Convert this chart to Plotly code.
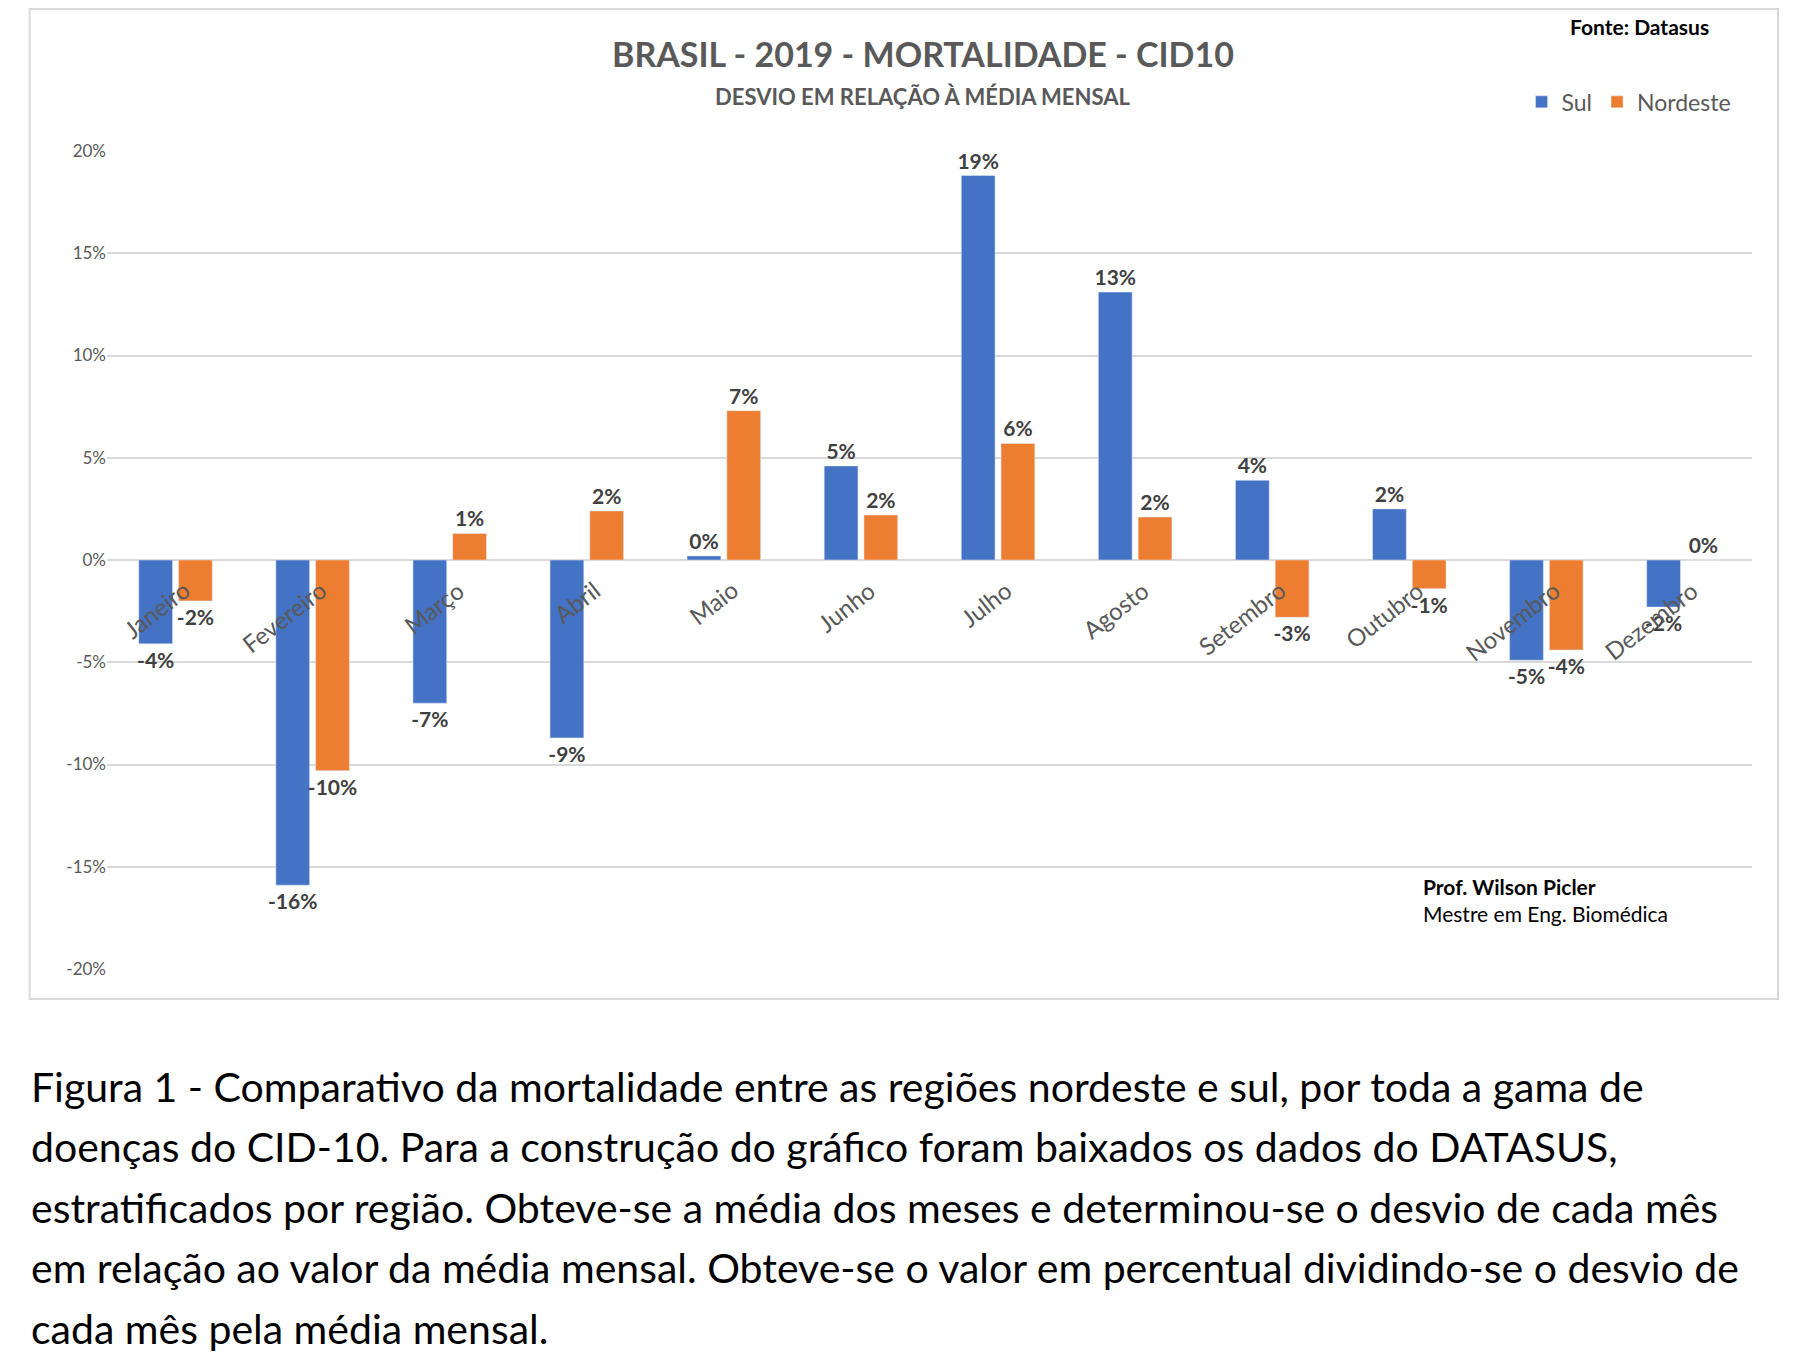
import plotly.graph_objects as go

meses = ["Janeiro","Fevereiro","Março","Abril","Maio","Junho","Julho","Agosto","Setembro","Outubro","Novembro","Dezembro"]
sul = [-4.1,-15.9,-7.0,-8.7,0.2,4.6,18.8,13.1,3.9,2.5,-4.9,-2.3]
nordeste = [-2.0,-10.3,1.3,2.4,7.3,2.2,5.7,2.1,-2.8,-1.4,-4.4,0.0]
sul_lbl = ["-4%","-16%","-7%","-9%","0%","5%","19%","13%","4%","2%","-5%","-2%"]
nor_lbl = ["-2%","-10%","1%","2%","7%","2%","6%","2%","-3%","-1%","-4%","0%"]
yticks = [-20,-15,-10,-5,0,5,10,15,20]

lab = dict(family="Lato", size=21, color="#404040")
fig = go.Figure()
fig.add_bar(x=meses, y=sul, name="Sul", marker_color="#4472C4",
            text=[f"<b>{t}</b>" for t in sul_lbl], textposition="outside",
            textfont=lab, cliponaxis=False, constraintext="none")
fig.add_bar(x=meses, y=nordeste, name="Nordeste", marker_color="#ED7D31",
            text=[f"<b>{t}</b>" for t in nor_lbl], textposition="outside",
            textfont=lab, cliponaxis=False, constraintext="none")

for m in meses:
    fig.add_annotation(x=m, y=-0.6, text=m, showarrow=False, textangle=-38,
                       xanchor="right", yanchor="top", xshift=22,
                       font=dict(family="Lato", size=24, color="#595959"))

fig.update_layout(
    width=1814, height=1362, paper_bgcolor="white", plot_bgcolor="white",
    margin=dict(l=99, r=70, t=143, b=401),
    barmode="group", bargap=0.42, bargroupgap=0.15,
    font=dict(family="Lato"),
    showlegend=True,
    legend=dict(orientation="h", x=0.99, xanchor="right", y=1.06, yanchor="middle",
                font=dict(family="Lato", size=23, color="#595959"), bgcolor="rgba(0,0,0,0)"),
    xaxis=dict(showticklabels=False, showgrid=False, zeroline=False, showline=False),
    yaxis=dict(range=[-20,20], tickvals=yticks, ticktext=[f"{v}%" for v in yticks],
               gridcolor="#D9D9D9", gridwidth=1.5, zeroline=True, zerolinecolor="#D9D9D9",
               zerolinewidth=1.5, tickfont=dict(family="Lato", size=17, color="#595959")),
)
fig.add_shape(type="rect", xref="paper", yref="paper", x0=-0.047, x1=1.0158, y0=-0.0367, y1=1.1736,
              line=dict(color="#D9D9D9", width=2))
fig.add_annotation(xref="paper", yref="paper", x=0.496, y=1.147, text="<b>BRASIL - 2019 - MORTALIDADE - CID10</b>",
                   showarrow=False, font=dict(family="Lato", size=34, color="#595959"))
fig.add_annotation(xref="paper", yref="paper", x=0.496, y=1.085, text="<b>DESVIO EM RELAÇÃO À MÉDIA MENSAL</b>",
                   showarrow=False, font=dict(family="Lato", size=22, color="#595959"))
fig.add_annotation(xref="paper", yref="paper", x=0.975, y=1.17, xanchor="right", text="<b>Fonte: Datasus</b>",
                   showarrow=False, font=dict(family="Lato", size=21, color="black"))
fig.add_annotation(xref="paper", yref="paper", x=0.799, y=0.05, xanchor="left", align="left",
                   text="<b>Prof. Wilson Picler</b><br>Mestre em Eng. Biomédica",
                   showarrow=False, font=dict(family="Lato", size=21, color="black"))
caption = ["Figura 1 - Comparativo da mortalidade entre as regiões nordeste e sul, por toda a gama de",
           "doenças do CID-10. Para a construção do gráfico foram baixados os dados do DATASUS,",
           "estratificados por região. Obteve-se a média dos meses e determinou-se o desvio de cada mês",
           "em relação ao valor da média mensal. Obteve-se o valor em percentual dividindo-se o desvio de",
           "cada mês pela média mensal."]
for i, line in enumerate(caption):
    py = 1078 + i * 60.5
    fig.add_annotation(xref="paper", yref="paper", x=(21 - 99) / 1645, y=(961 - py) / 818,
                       xanchor="left", yanchor="middle", text=line, showarrow=False,
                       font=dict(family="Lato", size=41, color="black"))
fig.write_html("out.html")
